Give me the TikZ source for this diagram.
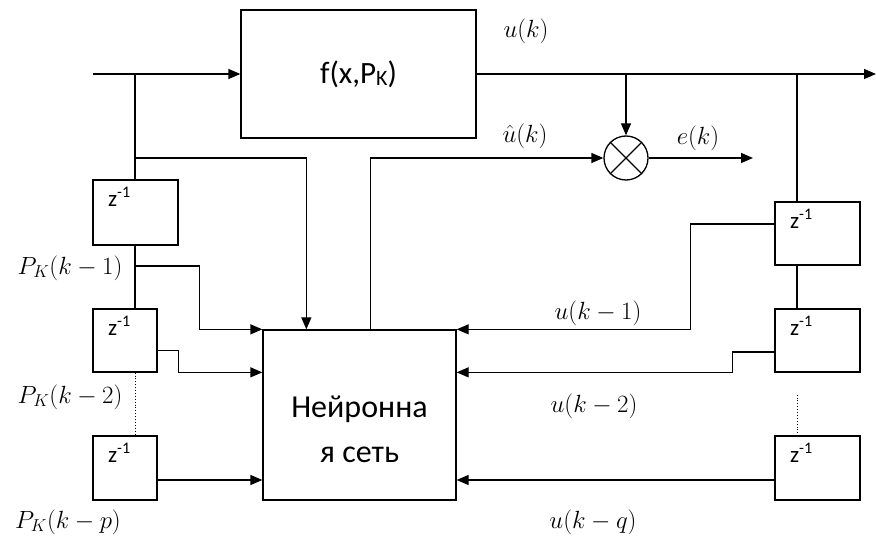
\documentclass[tikz,border=0pt]{standalone}
\usepackage{fontspec}
\setmainfont{Carlito}
\usetikzlibrary{arrows.meta,calc}

\begin{document}
\begin{tikzpicture}[
      x=1pt, y=-1pt,
      line width=1.3pt,
      >={Triangle[length=12pt,width=10pt]},
      block/.style args={#1x#2}{draw, inner sep=0pt, minimum width=#1pt, minimum height=#2pt},
      zdel/.style args={#1x#2}{block=#1x#2, label={[anchor=north west, inner sep=0pt, xshift=15pt, yshift=-7pt, font=\fontsize{23}{27}\selectfont]north west:z\textsuperscript{-1}}},
      lbl/.style={font=\fontsize{26}{30}\selectfont, inner sep=0pt}
    ]
      \useasboundingbox (0,0) rectangle (876,537);

      % blocks
      \node[block=235x128, font=\fontsize{31}{36}\selectfont] (f) at (358.5,74) {f(x,P\raisebox{-2pt}{\fontsize{22}{24}\selectfont K})};
      \node[block=193x170, label={[align=center, yshift=-14pt, font=\fontsize{32}{45}\selectfont]center:{Нейронна\\я сеть}}] (nn) at (359.5,415) {};
      \node[draw, circle, minimum size=44pt, inner sep=0pt] (mul) at (626,158) {};
      \draw (mul.north west) -- (mul.south east) (mul.north east) -- (mul.south west);

      \node[zdel=85x65] (zl1) at (135.5,212.5) {};
      \node[zdel=64x63] (zl2) at (125,340.5) {};
      \node[zdel=64x64] (zl3) at (125,468) {};
      \node[zdel=85x63] (zr1) at (817.5,233.5) {};
      \node[zdel=85x63] (zr2) at (817.5,340.5) {};
      \node[zdel=85x64] (zr3) at (817.5,468) {};

      \coordinate (in) at (93,74);
      \coordinate (out) at (876,74);
      \coordinate (ek) at (753,158);
      \coordinate (jl) at (135,74);
      \coordinate (jr) at (797,74);
      \coordinate (pk1) at (135,266);

      % main path
      \draw[->] (in) -- (f);
      \draw[->] (f) -- (out);
      \draw[->] (mul.north |- out) -- (mul);
      \draw[->] (mul) -- (ek);
      \draw[->] ($(nn.north west)+(108,0)$) |- (mul);

      % left delays
      \draw (jl) -- (jl |- zl1.north);
      \draw[->] (jl |- mul) -| ($(nn.north west)+(44,0)$);
      \draw (jl |- zl1.south) -- (jl |- zl2.north);
      \draw[->] (pk1) -| ($(nn.north west)+(-63,0)$) -- (nn.north west);
      \draw[->] ([yshift=-10pt]zl2.east) -- ++(21,0) |- ([yshift=-43pt]nn.north west);
      \draw[dotted, line width=0.9pt] (jl |- zl2.south) -- (jl |- zl3.north);
      \draw[->] ([yshift=-12pt]zl3.east) -- ([yshift=-12pt]zl3.east -| nn.west);

      % right delays
      \draw (jr) -- (jr |- zr1.north);
      \draw[->] ([yshift=9.5pt]zr1.west) -| ($(nn.north east)+(234,0)$) -- (nn.north east);
      \draw (jr |- zr1.south) -- (jr |- zr2.north);
      \draw[->] ([yshift=-11.5pt]zr2.west) -- ++(-42,0) |- ([yshift=-43pt]nn.north east);
      \draw[dotted, line width=0.9pt] ($(jr |- zr2.south)+(0,22)$) -- (jr |- zr3.north);
      \draw[->] ([yshift=-12pt]zr3.west) -- ([yshift=-12pt]zr3.west -| nn.east);

      % labels
      \node[lbl] (uk) at (526,31) {$u(k)$};
      \node[lbl] (uhat) at (525,136) {$\hat{u}(k)$};
      \node[lbl] (ek-l) at (698,138) {$e(k)$};
      \node[lbl] (pk1-l) at (70,268) {$P_K(k-1)$};
      \node[lbl] (pk2-l) at (70,397) {$P_K(k-2)$};
      \node[lbl] (pkp-l) at (68,522) {$P_K(k-p)$};
      \node[lbl] (uk1) at (598,313) {$u(k-1)$};
      \node[lbl] (uk2) at (594,406) {$u(k-2)$};
      \node[lbl] (ukq) at (593,522) {$u(k-q)$};
    \end{tikzpicture}
\end{document}
